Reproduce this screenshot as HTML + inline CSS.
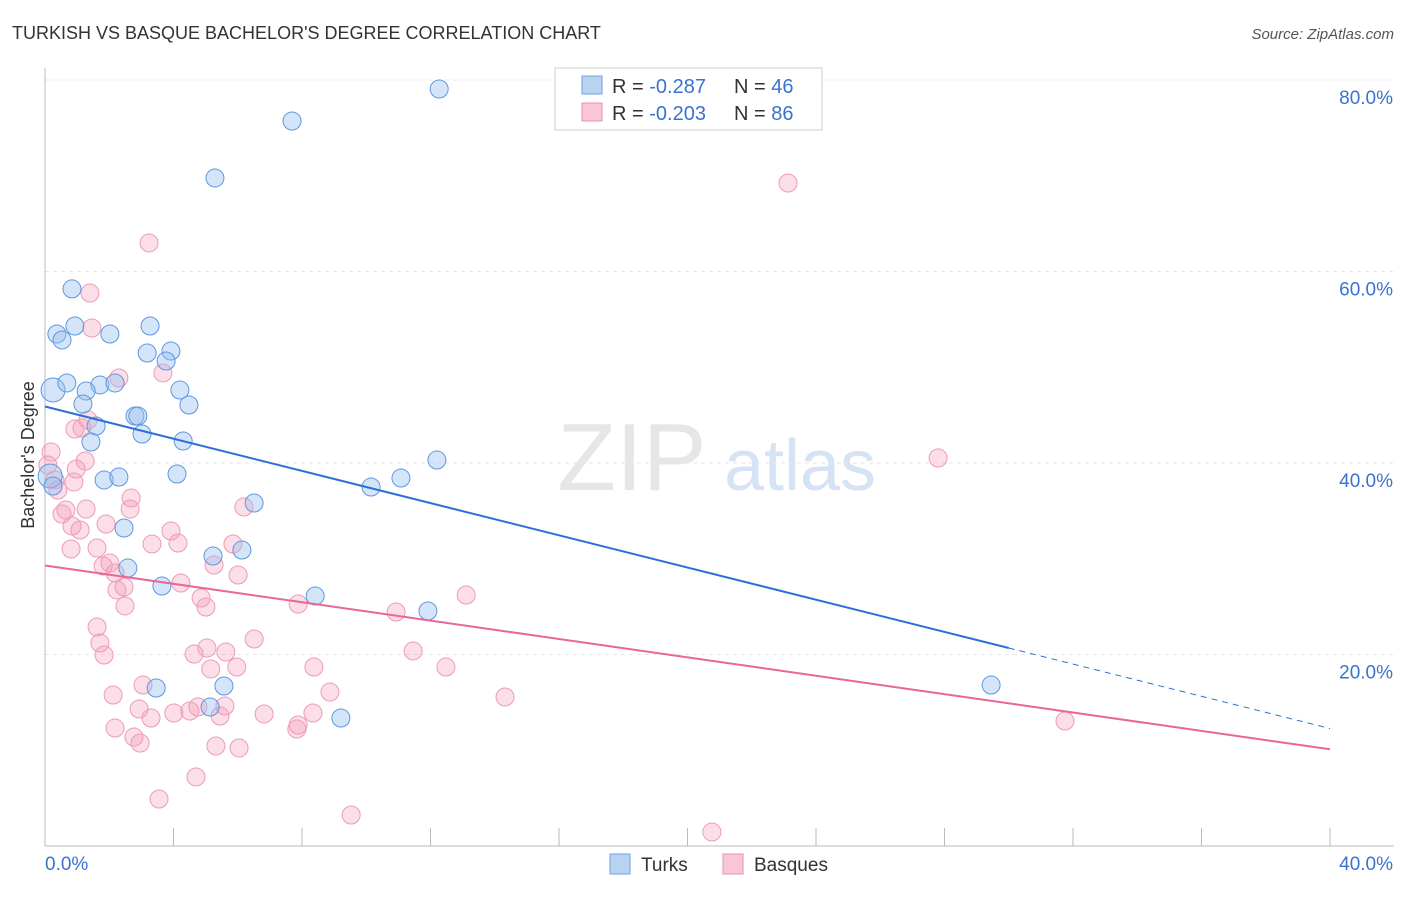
<!DOCTYPE html>
<html><head><meta charset="utf-8"><style>
body{margin:0;background:#fff;font-family:"Liberation Sans",sans-serif;}
svg text{font-family:"Liberation Sans",sans-serif;}
</style></head><body>
<svg id="chart" width="1406" height="892">
<text x="12" y="39" font-size="18" fill="#333">TURKISH VS BASQUE BACHELOR'S DEGREE CORRELATION CHART</text>
<text x="1394" y="39" font-size="15" fill="#555" font-style="italic" text-anchor="end">Source: ZipAtlas.com</text>
<g>
<text x="632" y="490" font-size="96" fill="#e6e6e6" text-anchor="middle" font-family="Liberation Serif,serif">ZIP</text>
<text x="800" y="490" font-size="72" fill="#d5e3f4" text-anchor="middle">atlas</text>
</g>
<g id="grid"></g><g id="axes"></g><g id="pts"></g><g id="lines"></g>
<text transform="translate(34,455) rotate(-90)" font-size="18" fill="#333" text-anchor="middle">Bachelor's Degree</text>
<g>
<rect x="555" y="68" width="267" height="62" fill="#fff" stroke="#ccc"/>
<rect x="582" y="76" width="20" height="18" fill="#b9d3f3" stroke="#6fa0e0"/>
<text x="612" y="93" font-size="20" fill="#333">R = <tspan fill="#3a73cf">-0.287</tspan></text>
<text x="734" y="93" font-size="20" fill="#333">N = <tspan fill="#3a73cf">46</tspan></text>
<rect x="582" y="103" width="20" height="18" fill="#f8c6d4" stroke="#e890ac"/>
<text x="612" y="120" font-size="20" fill="#333">R = <tspan fill="#3a73cf">-0.203</tspan></text>
<text x="734" y="120" font-size="20" fill="#333">N = <tspan fill="#3a73cf">86</tspan></text>
</g>
<g>
<rect x="610" y="854" width="20" height="20" fill="#b9d3f3" stroke="#6fa0e0"/>
<text x="641" y="871" font-size="19" fill="#333">Turks</text>
<rect x="723" y="854" width="20" height="20" fill="#f8c6d4" stroke="#e890ac"/>
<text x="754" y="871" font-size="19" fill="#333">Basques</text>
</g>
</svg>
<script>
const xTicks=[0,4,8,12,16,20,24,28,32,36,40];
const yTicks=[20,40,60,80];
const yTickLabels=["20.0%","40.0%","60.0%","80.0%"];
const turksX=[12.27,7.69,5.29,0.84,0.93,0.37,0.53,2.02,3.27,3.18,3.92,3.77,0.25,0.68,1.71,2.18,1.28,4.20,4.48,1.18,2.80,2.89,1.59,3.02,1.43,4.30,0.16,0.25,1.84,2.30,4.11,12.20,11.08,10.15,6.51,2.46,5.23,6.13,2.58,3.64,8.41,11.92,3.46,5.57,5.14,9.21,29.45];
const turksY=[79.06,75.72,69.77,58.18,54.31,53.47,52.85,53.47,54.31,51.49,51.70,50.65,47.62,48.36,48.15,48.36,47.52,47.62,46.06,46.16,44.91,44.91,43.86,43.03,42.19,42.30,38.64,37.60,38.23,38.54,38.85,40.31,38.43,37.49,35.82,33.21,30.29,30.91,29.03,27.15,26.11,24.54,16.50,16.71,14.52,13.37,16.81];
const basquesX=[23.13,3.24,1.40,1.46,3.67,2.30,0.19,0.93,1.15,1.34,1.25,0.97,0.09,0.31,0.90,0.40,0.53,0.65,1.28,2.68,2.65,0.84,1.09,1.90,0.81,1.62,3.33,3.92,4.14,6.19,5.85,1.81,2.02,2.18,5.26,6.01,4.23,2.24,2.46,4.86,5.01,2.49,7.88,10.93,13.11,1.62,1.71,1.84,6.51,5.04,4.64,5.63,11.46,12.48,8.37,5.16,5.97,3.05,2.12,8.87,14.32,2.93,3.30,4.01,4.51,4.76,5.60,5.45,6.82,8.34,7.84,7.88,2.18,2.77,2.96,5.32,6.04,4.70,3.55,9.53,20.76,27.80,31.75];
const basquesY=[69.24,62.98,57.75,54.10,49.40,48.88,41.15,43.55,43.66,44.49,40.21,39.37,39.79,38.23,38.02,37.18,34.67,35.09,35.19,36.34,35.19,33.42,33.00,33.63,31.02,31.12,31.54,32.90,31.64,35.40,31.54,29.24,29.56,28.51,29.35,28.30,27.47,26.74,27.05,25.90,24.96,25.07,25.27,24.44,26.21,22.87,21.20,19.95,21.62,20.68,20.05,20.26,20.37,18.69,18.69,18.49,18.69,16.81,15.77,16.08,15.56,14.31,13.37,13.89,14.10,14.52,14.62,13.58,13.79,13.89,12.22,12.64,12.32,11.38,10.76,10.44,10.24,7.21,4.91,3.24,1.46,40.52,13.05];
const turksFit=[45.9,-0.8407];
const basquesFit=[29.3,-0.48];
const NS="http://www.w3.org/2000/svg";
const X=v=>45+v/40*1285, Y=v=>846-v/20*191.5;
function mk(t,a,p){const e=document.createElementNS(NS,t);for(const k in a)e.setAttribute(k,a[k]);p.appendChild(e);return e;}
const grid=document.getElementById('grid'),axes=document.getElementById('axes');
yTicks.forEach((t,i)=>{
 const g=mk('line',{x1:45,x2:1394,y1:Y(t),y2:Y(t),stroke:'#e6e6e6','stroke-dasharray':'4,4'},grid);
 
 
 const tx=mk('text',{x:1393,y:Y(t)+24,'font-size':19,fill:'#3a73cf','text-anchor':'end'},axes);
 tx.textContent=yTickLabels[i];
 
 
});
const ax=mk('line',{x1:45,x2:1394,y1:846,y2:846,stroke:'#bbb'},axes);


const ay=mk('line',{x1:45,x2:45,y1:68,y2:846,stroke:'#bbb'},axes);


xTicks.forEach(t=>{const l=mk('line',{x1:X(t),x2:X(t),y1:828,y2:846,stroke:'#bbb'},axes);
 
 });
const x0=mk('text',{x:45,y:870,'font-size':19,fill:'#3a73cf'},axes);x0.textContent='0.0%';


const x1=mk('text',{x:1393,y:870,'font-size':19,fill:'#3a73cf','text-anchor':'end'},axes);x1.textContent='40.0%';


const pts=document.getElementById('pts');
basquesX.forEach((v,i)=>{const c=mk('circle',{cx:X(v),cy:Y(basquesY[i]),r:9,fill:'rgba(244,160,186,0.35)',stroke:'#ee9bb5','stroke-width':1},pts);
 
 });
turksX.forEach((v,i)=>{const c=mk('circle',{cx:X(v),cy:Y(turksY[i]),r:(i==12||i==26)?12:9,fill:'rgba(150,190,240,0.4)',stroke:'#5e97e0','stroke-width':1},pts);
 
 });
const lines=document.getElementById('lines');
const f=(p,x)=>p[0]+p[1]*x;
const tl=mk('line',{x1:X(0),y1:Y(f(turksFit,0)),x2:X(30),y2:Y(f(turksFit,30)),stroke:'#2d6fd6','stroke-width':2},lines);


const td=mk('line',{x1:X(30),y1:Y(f(turksFit,30)),x2:X(40),y2:Y(f(turksFit,40)),stroke:'#2d6fd6','stroke-width':1,'stroke-dasharray':'6,5'},lines);


const bl=mk('line',{x1:X(0),y1:Y(f(basquesFit,0)),x2:X(40),y2:Y(f(basquesFit,40)),stroke:'#e8679a','stroke-width':2},lines);


</script>
</body></html>
